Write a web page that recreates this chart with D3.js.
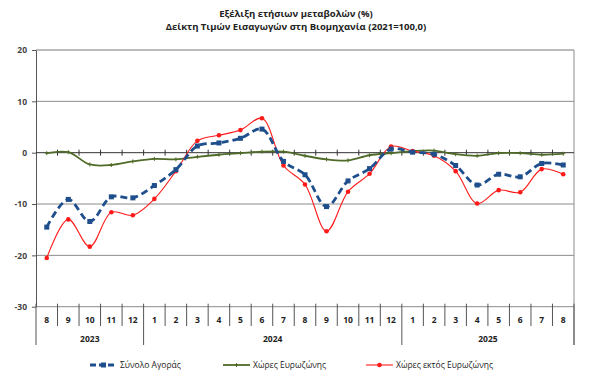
<!DOCTYPE html>
<html>
<head>
<meta charset="UTF-8">
<script src="https://d3js.org/d3.v7.min.js"></script>
<style>
  body { margin: 0; background: #fff; }
  svg text { font-family: "Open Sans", "DejaVu Sans", sans-serif; }
</style>
</head>
<body>
<svg width="600" height="389"></svg>
<script>
// months shown on the category axis, August 2023 to August 2025
const months = ["8","9","10","11","12","1","2","3","4","5","6","7","8","9","10","11","12","1","2","3","4","5","6","7","8"];
const years = [
  { label: "2023", from: 0, to: 4 },
  { label: "2024", from: 5, to: 16 },
  { label: "2025", from: 17, to: 24 }
];
const yTicks = [20, 10, 0, -10, -20, -30];

// annual change (%)
const total   = [-14.5, -9.1, -13.4, -8.6, -8.8, -6.4, -3.3, 1.3, 1.9, 2.8, 4.6, -1.7, -4.3, -10.5, -5.5, -3.1, 0.7, 0.1, -0.3, -2.5, -6.3, -4.2, -4.7, -2.1, -2.4];
const euro    = [-0.1, 0.1, -2.3, -2.4, -1.7, -1.2, -1.3, -0.8, -0.4, -0.1, 0.2, 0.2, -0.6, -1.3, -1.5, -0.5, -0.1, 0.3, 0.4, -0.3, -0.6, -0.1, -0.1, -0.4, -0.2];
const nonEuro = [-20.5, -13.0, -18.3, -11.6, -12.2, -9.0, -3.6, 2.3, 3.4, 4.4, 6.7, -2.5, -6.2, -15.3, -7.6, -4.1, 1.2, 0.3, -0.6, -3.6, -9.9, -7.3, -7.7, -3.2, -4.2];

const seriesNames = ["Σύνολο Αγοράς", "Χώρες Ευρωζώνης", "Χώρες εκτός Ευρωζώνης"];

const svg = d3.select("svg");
const plotLeft = 36, plotRight = 574, plotTop = 50, plotBottom = 306.7;

const idx = d3.range(months.length);
const x = d3.scaleBand().domain(idx).range([plotLeft, plotRight]).padding(0);
const cx = i => x(i) + x.bandwidth() / 2;
const y = d3.scaleLinear().domain([-30, 20]).range([plotBottom, plotTop]);

// title
svg.append("text").attr("x", 296).attr("y", 17).attr("text-anchor", "middle")
  .attr("font-size", 9.5).attr("font-weight", "bold").attr("fill", "#222")
  .text("Εξέλιξη ετήσιων μεταβολών (%)");
svg.append("text").attr("x", 296).attr("y", 30).attr("text-anchor", "middle")
  .attr("font-size", 9.5).attr("font-weight", "bold").attr("fill", "#222")
  .text("Δείκτη Τιμών Εισαγωγών στη Βιομηχανία (2021=100,0)");

// gridlines
svg.append("g").selectAll("line").data(yTicks.filter(d => d !== 0)).enter().append("line")
  .attr("x1", plotLeft).attr("x2", plotRight)
  .attr("y1", d => y(d)).attr("y2", d => y(d))
  .attr("stroke", d => d === 20 ? "#777" : "#8c8c8c").attr("stroke-width", 1);

// right border
svg.append("line").attr("x1", plotRight).attr("x2", plotRight).attr("y1", plotTop).attr("y2", 345)
  .attr("stroke", "#8c8c8c");

// y axis (plain hyphen for negatives, as in the reference)
const yAxis = svg.append("g").attr("transform", `translate(${plotLeft},0)`)
  .call(d3.axisLeft(y).tickValues(yTicks).tickFormat(d => String(d))
    .tickSize(4).tickSizeOuter(0).tickPadding(5));
yAxis.select(".domain").attr("stroke", "#555");
yAxis.selectAll(".tick line").attr("stroke", "#555");
yAxis.selectAll("text").attr("font-size", 8.5).attr("font-weight", "bold")
  .attr("fill", "#444").attr("font-family", "'Open Sans', sans-serif");

// zero line with category ticks
svg.append("line").attr("x1", plotLeft).attr("x2", plotRight).attr("y1", y(0)).attr("y2", y(0))
  .attr("stroke", "#333");
svg.append("g").selectAll("line").data(d3.range(1, months.length)).enter().append("line")
  .attr("x1", i => x(i)).attr("x2", i => x(i))
  .attr("y1", y(0) - 3).attr("y2", y(0) + 3)
  .attr("stroke", "#333");

// bottom category separators
const yearStarts = years.map(d => d.from);
svg.append("g").selectAll("line").data(d3.range(0, months.length + 1)).enter().append("line")
  .attr("x1", i => i < months.length ? x(i) : plotRight)
  .attr("x2", i => i < months.length ? x(i) : plotRight)
  .attr("y1", plotBottom - 3)
  .attr("y2", i => (i === 0 || i === months.length || yearStarts.includes(i)) ? 345 : 326)
  .attr("stroke", "#555");

// month labels
svg.append("g").selectAll("text").data(idx).enter().append("text")
  .attr("x", i => cx(i)).attr("y", 323).attr("text-anchor", "middle")
  .attr("font-size", 8.5).attr("font-weight", "bold").attr("fill", "#222")
  .text(i => months[i]);

// year labels
svg.append("g").selectAll("text").data(years).enter().append("text")
  .attr("x", d => (x(d.from) + x(d.to) + x.bandwidth()) / 2).attr("y", 342)
  .attr("text-anchor", "middle").attr("font-size", 8.5).attr("font-weight", "bold")
  .attr("fill", "#222").text(d => d.label);

const line = d3.line().x((d, i) => cx(i)).y(d => y(d)).curve(d3.curveCatmullRom.alpha(0.5));

const styles = [
  { data: total, color: "#1f4e8c", width: 2.8, dash: "7,4", marker: "square" },
  { data: euro, color: "#4f6b28", width: 1.8, dash: null, marker: "plus" },
  { data: nonEuro, color: "#ff1a1a", width: 1.1, dash: null, marker: "circle" }
];

// draw euro first so the others sit on top, like the reference
[1, 2, 0].forEach(k => {
  const s = styles[k];
  const g = svg.append("g");
  g.append("path").datum(s.data).attr("d", line)
    .attr("fill", "none").attr("stroke", s.color).attr("stroke-width", s.width)
    .attr("stroke-dasharray", s.dash);
  const pts = g.selectAll(".pt").data(s.data).enter();
  if (s.marker === "square") {
    pts.append("rect").attr("x", (d, i) => cx(i) - 2.5).attr("y", d => y(d) - 2.5)
      .attr("width", 5).attr("height", 5).attr("fill", s.color);
  } else if (s.marker === "circle") {
    pts.append("circle").attr("cx", (d, i) => cx(i)).attr("cy", d => y(d)).attr("r", 2.3)
      .attr("fill", s.color);
  } else {
    pts.append("path").attr("d", (d, i) => `M${cx(i) - 2},${y(d)}h4M${cx(i)},${y(d) - 2}v4`)
      .attr("stroke", s.color).attr("stroke-width", 1);
  }
});

// legend
const legendX = [90, 223, 366];
seriesNames.forEach((name, k) => {
  const s = styles[k];
  const g = svg.append("g").attr("transform", `translate(${legendX[k]},365)`);
  g.append("line").attr("x1", 0).attr("x2", 27).attr("y1", 0).attr("y2", 0)
    .attr("stroke", s.color).attr("stroke-width", s.width).attr("stroke-dasharray", s.dash ? "6,3" : null);
  if (s.marker === "square") {
    g.append("rect").attr("x", 11).attr("y", -2.5).attr("width", 5).attr("height", 5).attr("fill", s.color);
  } else if (s.marker === "circle") {
    g.append("circle").attr("cx", 13.5).attr("cy", 0).attr("r", 2.3).attr("fill", s.color);
  } else {
    g.append("path").attr("d", "M11.5,0h4M13.5,-2v4").attr("stroke", s.color);
  }
  g.append("text").attr("x", 30).attr("y", 3).attr("font-size", 8.5).attr("fill", "#222").text(name);
});
</script>
</body>
</html>
